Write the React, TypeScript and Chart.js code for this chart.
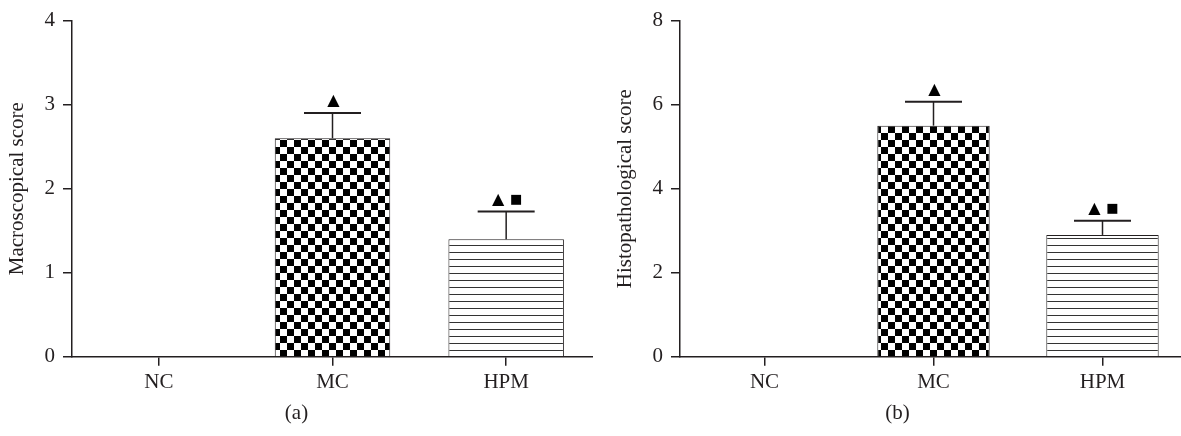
import React, { useEffect, useRef } from "react";
import { Chart, registerables } from "chart.js";

Chart.register(...registerables);

// ---- data ----
const categories = ["NC", "MC", "HPM"];
const macroMeans = [0, 2.6, 1.4];
const macroErrors = [0, 0.3, 0.33];
const histoMeans = [0, 5.5, 2.9];
const histoErrors = [0, 0.57, 0.34];
const markers = ["", "▲", "▲■"];
const macroAxis = { max: 4, step: 1, title: "Macroscopical score", label: "(a)" };
const histoAxis = { max: 8, step: 2, title: "Histopathological score", label: "(b)" };

const INK = "#231f20";
const FONT = "'Liberation Serif', 'DejaVu Serif', serif";
const FS = 21;

function makeChecker(): CanvasPattern | string {
  const c = document.createElement("canvas");
  c.width = 14;
  c.height = 14;
  const g = c.getContext("2d");
  if (!g) return "#888";
  g.fillStyle = "#ffffff";
  g.fillRect(0, 0, 14, 14);
  g.fillStyle = "#000000";
  g.fillRect(0, 0, 7, 7);
  g.fillRect(7, 7, 7, 7);
  return g.createPattern(c, "repeat") || "#888";
}

function makeLines(): CanvasPattern | string {
  const c = document.createElement("canvas");
  c.width = 8;
  c.height = 7;
  const g = c.getContext("2d");
  if (!g) return "#ccc";
  g.fillStyle = "#ffffff";
  g.fillRect(0, 0, 8, 7);
  g.fillStyle = "#333333";
  g.fillRect(0, 0, 8, 1);
  return g.createPattern(c, "repeat") || "#ccc";
}

const errorBarPlugin = {
  id: "errorBars",
  afterDatasetsDraw(chart: any, _args: any, opts: any) {
    const { ctx } = chart;
    const meta = chart.getDatasetMeta(0);
    const yScale = chart.scales.y;
    const values: number[] = opts.values;
    const errors: number[] = opts.errors;
    const marks: string[] = opts.markers;
    ctx.save();
    meta.data.forEach((bar: any, i: number) => {
      const err = errors[i];
      if (!err) return;
      const x = bar.x;
      const yTop = yScale.getPixelForValue(values[i]);
      const yErr = yScale.getPixelForValue(values[i] + err);
      ctx.strokeStyle = INK;
      ctx.lineWidth = 1.5;
      ctx.beginPath();
      ctx.moveTo(x, yTop);
      ctx.lineTo(x, yErr);
      ctx.stroke();
      ctx.lineWidth = 2;
      ctx.beginPath();
      ctx.moveTo(x - 28.5, yErr);
      ctx.lineTo(x + 28.5, yErr);
      ctx.stroke();
      const m = Array.from(marks[i] || "");
      ctx.fillStyle = "#000";
      ctx.textAlign = "center";
      ctx.textBaseline = "middle";
      const spacing = 18;
      m.forEach((ch, k) => {
        const cx = x + 1 + (k - (m.length - 1) / 2) * spacing;
        ctx.font = ch === "■" ? "13px 'DejaVu Sans'" : "16px 'DejaVu Sans'";
        ctx.fillText(ch, cx, yErr - 12);
      });
    });
    ctx.restore();
  },
};

function makeConfig(values: number[], errors: number[], axis: any): any {
  const checker = makeChecker();
  const lines = makeLines();
  return {
    type: "bar",
    data: {
      labels: categories,
      datasets: [
        {
          data: values,
          backgroundColor: [lines, checker, lines],
          borderColor: INK,
          borderWidth: 1,
          barPercentage: 0.665,
          categoryPercentage: 1,
        },
      ],
    },
    options: {
      responsive: false,
      animation: false,
      layout: { padding: { top: 20, left: 0, right: 0, bottom: 0 } },
      plugins: {
        legend: { display: false },
        tooltip: { enabled: false },
        title: {
          display: true,
          text: axis.label,
          position: "bottom",
          color: INK,
          font: { family: FONT, size: FS, weight: "normal" },
          padding: { top: 6, bottom: 10 },
        },
        errorBars: { values, errors, markers },
      },
      scales: {
        x: {
          offset: true,
          grid: {
            display: true,
            offset: false,
            drawOnChartArea: false,
            drawTicks: true,
            tickLength: 9,
            color: INK,
            lineWidth: 1.5,
          },
          border: { display: true, color: INK, width: 1.5 },
          ticks: { color: INK, padding: 4, font: { family: FONT, size: FS } },
          afterFit(scale: any) {
            scale.height = 38;
          },
        },
        y: {
          min: 0,
          max: axis.max,
          ticks: {
            stepSize: axis.step,
            color: INK,
            padding: 8,
            font: { family: FONT, size: FS },
          },
          grid: {
            display: true,
            drawOnChartArea: false,
            drawTicks: true,
            tickLength: 9,
            color: INK,
            lineWidth: 1.5,
          },
          border: { display: true, color: INK, width: 1.5 },
          title: {
            display: true,
            text: axis.title,
            color: INK,
            font: { family: FONT, size: FS },
            padding: { top: 5, bottom: 0 },
          },
          afterFit(scale: any) {
            scale.width = 72;
          },
        },
      },
    },
    plugins: [errorBarPlugin],
  };
}

function Panel(props: { values: number[]; errors: number[]; axis: any; left: number; width: number }) {
  const ref = useRef<HTMLCanvasElement | null>(null);
  useEffect(() => {
    if (!ref.current) return;
    const chart = new Chart(ref.current, makeConfig(props.values, props.errors, props.axis));
    return () => chart.destroy();
  }, []);
  return (
    <canvas
      ref={ref}
      width={props.width}
      height={436}
      style={{ position: "absolute", left: props.left, top: 0, width: props.width, height: 436, display: "block" }}
    />
  );
}

export default function App() {
  return (
    <div
      style={{
        position: "absolute",
        left: 0,
        top: 0,
        width: 1181,
        height: 436,
        overflow: "hidden",
        background: "#ffffff",
      }}
    >
      <Panel values={macroMeans} errors={macroErrors} axis={macroAxis} left={0} width={593} />
      <Panel values={histoMeans} errors={histoErrors} axis={histoAxis} left={608} width={579} />
    </div>
  );
}
